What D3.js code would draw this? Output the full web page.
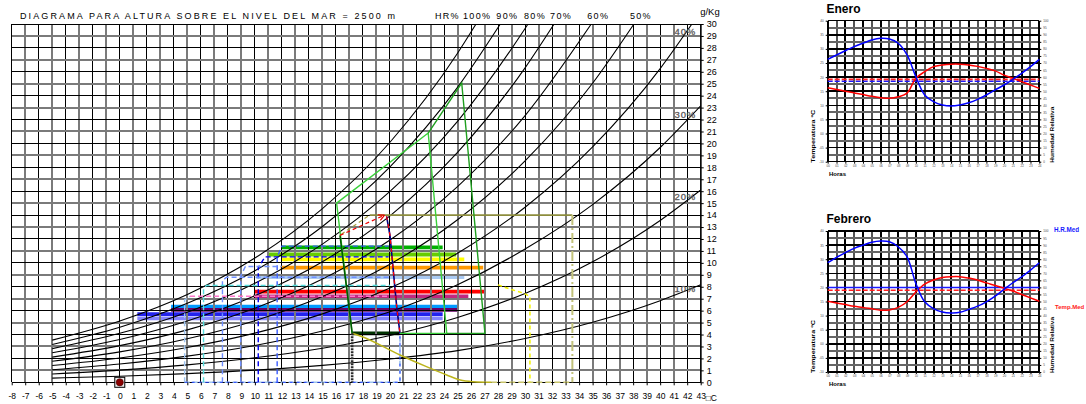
<!DOCTYPE html>
<html>
<head>
<meta charset="utf-8">
<script src="https://cdn.jsdelivr.net/npm/d3@7"></script>
<style>
  body { margin: 0; background: #fff; }
  svg { display: block; font-family: Arial, "Liberation Sans", sans-serif; }
</style>
</head>
<body>
<div id="chart"></div>
<script>
// ---- main psychrometric chart data ----
const tempTicks = d3.range(-8, 44);   // -8 .. 43 degC
const humTicks = d3.range(0, 31);     // 0 .. 30 g/Kg

// relative humidity curves [T, g/Kg]
const rh100 = [[-5,3.53],[0,5.13],[5,7.35],[10,10.40],[15,14.54],[20,20.10],[25,27.55],[26.37,30]];
const rh90  = [[-5,3.17],[0,4.61],[5,6.61],[10,9.34],[15,13.05],[20,18.03],[25,24.69],[28.17,30]];
const rh80  = [[-5,2.82],[0,4.10],[5,5.87],[10,8.29],[15,11.57],[20,15.98],[25,21.85],[30,29.62],[30.22,30]];
const rh70  = [[-5,2.47],[0,3.58],[5,5.13],[10,7.24],[15,10.10],[20,13.94],[25,19.25],[30,26.33],[32.15,30]];
const rh60  = [[-5,2.11],[0,3.07],[5,4.39],[10,6.20],[15,8.64],[20,11.91],[25,16.39],[30,22.33],[34.9,30]];
const rh50  = [[-5,1.76],[0,2.55],[5,3.65],[10,5.16],[15,7.18],[20,9.89],[25,13.61],[30,18.54],[35,25.04],[38.06,30]];
const rh40  = [[-5,1.41],[0,2.04],[5,2.92],[10,4.12],[15,5.73],[20,7.89],[25,10.81],[30,14.66],[35,19.71],[40,26.27],[42.35,30]];
const rh30  = [[-5,1.05],[0,1.53],[5,2.19],[10,3.08],[15,4.29],[20,5.90],[25,8.16],[30,11.16],[35,14.88],[40,19.66],[43,23.15]];
const rh20  = [[-5,0.70],[0,1.02],[5,1.46],[10,2.05],[15,2.85],[20,3.92],[25,5.43],[30,7.44],[35,10.09],[40,13.55],[43,16.10]];
const rh10  = [[-5,0.35],[0,0.51],[5,0.73],[10,1.02],[15,1.42],[20,1.95],[25,2.65],[30,3.67],[35,5.03],[40,6.83],[43,8.16]];
const rhCurves = [rh100, rh90, rh80, rh70, rh60, rh50, rh40, rh30, rh20, rh10];
const rhTopLabels = ['100%', '90%', '80%', '70%', '60%', '50%'];
const rhSideLabels = ['40%', '30%', '20%', '10%'];

// monthly lines: mean humidity (g/Kg), min and max temperature
const monthW    = [11.3, 10.7, 10.3, 9.6, 8.8, 7.6, 7.2, 6.34, 6.06, 5.7, 5.36, 4.1];
const monthTmin = [12.0, 10.9, 12.0, 11.9, 10.1, 10.0, 9.9, 3.8, 3.8, 1.3, 1.3, 17.2];
const monthTmax = [23.9, 24.9, 25.5, 26.9, 25.5, 27.0, 25.8, 25.1, 25.1, 23.9, 23.9, 20.7];
const monthColors = ['#00b000', '#66cc00', '#ffff00', '#ff9900', '#a9c9f2', '#ff0000',
                     '#c0287f', '#0099ff', '#660066', '#2222ee', '#8585ff', '#003300'];

// dashed boxes [T, g/Kg]
const dashA = [[11.65,0],[11.65,10.5],[12.0,11.4],[19.9,11.4]];
const dashB = [[10.25,0],[10.25,9.6],[10.75,10.5],[19.9,10.5]];
const dashC = [[8.95,0],[8.95,8.9],[9.3,9.7],[12.0,9.7]];
const dashD = [[7.6,0],[7.6,8.5],[7.9,8.8],[20.0,8.8]];
const dashE = [[6.2,0],[6.2,7.8],[6.4,8.1],[20.0,8.1]];
const dashF = [[4.8,0],[4.8,6.9],[5.2,7.2]];
const dashG = [[5.2,7.2],[20.0,7.2]];
const dashBase = [[4.8,0],[20.74,0],[20.74,4.1]];
const dashRight = [[19.75,13.9],[20.0,12.3],[20.5,6.3],[20.74,4.1]];

// other annotations
const greenLight = [[20.74,4.1],[24.2,4.1],[22.83,20.87],[16.05,15.0],[17.2,4.1]];
const greenDark = [[22.83,20.87],[25.31,25.06],[27.03,4.1],[24.2,4.1]];
const greenEdge = [[16.3,12.3],[17.04,5.64],[17.2,4.1]];
const blackPost = [[17.2,4.1],[17.2,0]];
const arrowRed = [[16.3,12.3],[19.6,14.0]];
const arrowOlive = [[16.4,12.4],[18.5,14.0]];
const oliveTop = [[18.5,14.0],[33.5,14.0]];
const oliveDrop = [[33.5,14.0],[33.5,0]];
const yellowDrop = [[28.0,8.16],[28.9,7.8],[29.9,7.46],[30.36,7.18],[30.36,0]];
const oliveCurve = [[17.2,4.1],[17.8,3.88],[20.74,2.29],[22.7,1.31],[24.2,0.61],[25.2,0.19],[26.2,0.05],[27.5,0]];
const oliveFloor = [[27.5,0],[33.5,0]];
const originPoint = [0, 0];

// ---- daily charts data ----
const hours = d3.range(0, 25);
const eneroTemp = [16.2,15.6,15.0,14.4,13.8,13.2,12.7,12.5,13.0,14.3,19.6,21.9,23.7,24.3,24.6,24.6,24.3,23.8,23.1,22.2,20.7,19.6,18.4,17.2,16.0];
const eneroHum  = [72.6,75.7,78.7,81.6,84.0,86.3,87.5,87.0,84.0,75.7,60.3,47.3,42.6,40.2,39.5,40.2,41.8,44.2,47.3,50.9,54.4,58.4,62.7,67.4,72.6];
const febreroTemp = [15.1,14.5,13.9,13.3,12.9,12.4,11.9,12.0,12.9,14.9,18.4,21.2,22.6,23.5,23.8,23.8,23.3,22.6,21.6,20.7,19.7,18.7,17.5,16.3,15.1];
const febreroHum  = [77.5,81.3,84.6,87.7,90.0,92.0,92.9,92.4,88.8,81.7,62.8,49.8,45.0,42.6,41.9,42.3,44.4,46.7,49.8,53.8,58.6,63.3,67.5,72.3,77.5];
const eneroMeans = [19.2, 57];
const febreroMeans = [19.0, 60];

// ---------------------------------------------------------------
const svg = d3.select('#chart').append('svg')
  .attr('width', 1086)
  .attr('height', 404);

const x = d3.scaleLinear().domain([-8, 43]).range([11.7, 700.7]);
const y = d3.scaleLinear().domain([0, 30]).range([382.3, 24]);
const poly = d3.line().x(d => x(d[0])).y(d => y(d[1]));
const smooth = d3.line().x(d => x(d[0])).y(d => y(d[1])).curve(d3.curveMonotoneX);

svg.append('defs').append('clipPath').attr('id', 'plotClip')
  .append('rect').attr('x', x(-8)).attr('y', y(30)).attr('width', x(43) - x(-8)).attr('height', y(0) - y(30));

function path(g, pts, color, width, dash, gen) {
  return g.append('path')
    .attr('d', (gen || poly)(pts))
    .attr('fill', 'none')
    .attr('stroke', color)
    .attr('stroke-width', width)
    .attr('stroke-dasharray', dash || null);
}

// month solid lines (under grid)
const months = svg.append('g');
monthW.forEach((w, i) => {
  months.append('line')
    .attr('x1', x(monthTmin[i])).attr('x2', x(monthTmax[i]))
    .attr('y1', y(w)).attr('y2', y(w))
    .attr('stroke', monthColors[i])
    .attr('stroke-width', 3.8);
});

// grid
const grid = svg.append('g').attr('shape-rendering', 'crispEdges');
tempTicks.forEach(t => {
  const even = Math.abs(t) % 2 === 0;
  grid.append('line')
    .attr('x1', x(t)).attr('x2', x(t))
    .attr('y1', y(30)).attr('y2', y(0))
    .attr('stroke', even ? '#000' : '#7a7a7a')
    .attr('stroke-width', even ? 1 : 2);
});
humTicks.forEach(h => {
  const even = h % 2 === 0;
  grid.append('line')
    .attr('x1', x(-8)).attr('x2', x(43))
    .attr('y1', y(h)).attr('y2', y(h))
    .attr('stroke', even ? '#000' : '#7a7a7a')
    .attr('stroke-width', even ? 1 : 2);
});

// relative humidity curves
const curves = svg.append('g').attr('clip-path', 'url(#plotClip)');
rhCurves.forEach(c => path(curves, c, '#000', 1.1, null, smooth));

// dashed boxes
const dashes = svg.append('g');
path(dashes, dashBase, '#9cc3ef', 1.6, '5,3');
path(dashes, dashBase, '#1f3fff', 1, '3,4');
path(dashes, dashA, '#3a5cff', 1.4, '5,3');
path(dashes, dashB, '#0000ee', 1.4, '5,3');
path(dashes, dashC, '#6f8fff', 1.4, '5,3');
path(dashes, dashD, '#6f8fff', 1.4, '5,3');
path(dashes, dashE, '#55dddd', 1.4, '5,3');
path(dashes, dashF, '#9cc3ef', 1.4, '5,3');
path(dashes, dashG, '#ff77cc', 1.4, '5,3');
path(dashes, dashRight, '#000080', 1.6);
path(dashes, dashRight, '#ff0000', 1.2, '4,4');

// other annotations
const notes = svg.append('g');
path(notes, oliveCurve, '#bcb41c', 1.5, null, smooth);
path(notes, oliveFloor, '#c8c46a', 1.6, '6,3');
path(notes, oliveTop, '#8c8c3c', 1.6);
path(notes, oliveDrop, '#c2c27a', 2, '10,3,2,3');
path(notes, yellowDrop, '#f2f200', 1.5, '4,3');
path(notes, greenLight, '#3ad03a', 1.4);
path(notes, greenDark, '#1f9f1f', 1.4);
path(notes, greenEdge, '#005a00', 1.6);
path(notes, blackPost, '#2a2a2a', 2.6, '2,1');
path(notes, arrowOlive, '#a8a040', 1.2, '4,3');
path(notes, arrowRed, '#ee0000', 1.2, '4,3');
const a1 = arrowRed[1], a0 = arrowRed[0];
const ang = Math.atan2(y(a1[1]) - y(a0[1]), x(a1[0]) - x(a0[0]));
notes.append('path')
  .attr('d', 'M0,0 L-6,-3 M0,0 L-6,3')
  .attr('transform', `translate(${x(a1[0])},${y(a1[1])}) rotate(${ang * 180 / Math.PI})`)
  .attr('stroke', '#ee0000').attr('stroke-width', 1.2).attr('fill', 'none');

// plot frame
svg.append('line').attr('x1', x(43)).attr('x2', x(43)).attr('y1', y(30)).attr('y2', y(0))
  .attr('stroke', '#000').attr('stroke-width', 1.2);

// axes
const xAxis = d3.axisBottom(x).tickValues(tempTicks).tickSize(3).tickPadding(8).tickFormat(d => String(d));
const gx = svg.append('g').attr('transform', `translate(0,${y(0)})`).call(xAxis);
gx.select('.domain').remove();
gx.attr('font-family', null).attr('font-size', null);
gx.selectAll('text').attr('font-size', 8.5).attr('fill', '#000');
gx.selectAll('line').attr('stroke', '#000');

const yAxis = d3.axisRight(y).tickValues(humTicks).tickSize(3).tickPadding(3).tickFormat(d => String(d));
const gy = svg.append('g').attr('transform', `translate(${x(43)},0)`).call(yAxis);
gy.select('.domain').remove();
gy.attr('font-family', null).attr('font-size', null);
gy.selectAll('text').attr('font-size', 9).attr('fill', '#000');

svg.append('text').attr('x', x(43) + 5).attr('y', 400.5).attr('font-size', 8.5).text('\u25A1C');
svg.append('text').attr('x', x(43) - 0.5).attr('y', 15).attr('font-size', 9.5).text('g/Kg');

// titles and curve labels
svg.append('text')
  .attr('x', 20).attr('y', 19.3)
  .attr('font-size', 9)
  .attr('textLength', 375).attr('lengthAdjust', 'spacing')
  .text('DIAGRAMA PARA ALTURA SOBRE EL NIVEL DEL MAR = 2500 m');

rhTopLabels.forEach((lab, i) => {
  const end = rhCurves[i][rhCurves[i].length - 1];
  svg.append('text')
    .attr('x', x(end[0]) - (i === 0 ? 13 : 4))
    .attr('y', 19.3)
    .attr('font-size', 9).attr('letter-spacing', 1.3)
    .text(lab);
});
svg.append('text').attr('x', 435).attr('y', 19.3)
  .attr('font-size', 9).attr('letter-spacing', 1.3).text('HR%');

const sideOffsets = [11, 12, 10, 7];
rhSideLabels.forEach((lab, i) => {
  const c = rhCurves[6 + i];
  const end = c[c.length - 1];
  svg.append('text')
    .attr('x', 696).attr('y', y(end[1]) + sideOffsets[i])
    .attr('text-anchor', 'end')
    .attr('font-size', 9.5).attr('letter-spacing', 0.8)
    .attr('fill', '#333').attr('stroke', '#777').attr('stroke-width', 0.3)
    .text(lab);
});

// origin marker
svg.append('rect')
  .attr('x', x(originPoint[0]) - 5).attr('y', y(originPoint[1]) - 5)
  .attr('width', 10).attr('height', 10)
  .attr('fill', '#eee').attr('stroke', '#000').attr('stroke-width', 1);
svg.append('circle')
  .attr('cx', x(originPoint[0])).attr('cy', y(originPoint[1]))
  .attr('r', 3.6).attr('fill', '#8b0000').attr('stroke', '#400').attr('stroke-width', 0.6);

// ---- daily charts ----
function daily(top, name, temp, hum, means, blueSolid) {
  const g = svg.append('g');
  const xs = d3.scaleLinear().domain([0, 24]).range([827.7, 1039.3]);
  const yt = d3.scaleLinear().domain([-10, 40]).range([top + 141, top]);
  const yh = d3.scaleLinear().domain([0, 100]).range([top + 141, top]);

  const gg = g.append('g').attr('shape-rendering', 'crispEdges');
  hours.forEach(h => {
    gg.append('line').attr('x1', xs(h)).attr('x2', xs(h)).attr('y1', yh(100)).attr('y2', yh(0))
      .attr('stroke', h % 2 === 0 ? '#000' : '#555').attr('stroke-width', 2);
  });
  d3.range(0, 105, 5).forEach(v => {
    gg.append('line').attr('x1', xs(0)).attr('x2', xs(24)).attr('y1', yh(v)).attr('y2', yh(v))
      .attr('stroke', v % 10 === 0 ? '#000' : '#666').attr('stroke-width', v % 10 === 0 ? 1.5 : 2);
  });
  [0, 24].forEach(h => gg.append('line').attr('x1', xs(h)).attr('x2', xs(h)).attr('y1', yh(100)).attr('y2', yh(0))
    .attr('stroke', '#000').attr('stroke-width', 2));

  const tiny = sel => {
    sel.select('.domain').remove();
    sel.attr('font-family', null).attr('font-size', null);
    sel.selectAll('text').attr('font-size', 3).attr('fill', '#444');
    sel.selectAll('line').attr('stroke', '#000');
  };
  const pad2 = d => (d < 0 ? '-' : '') + String(Math.abs(d)).padStart(2, '0');
  g.append('g').attr('transform', `translate(${xs(0)},0)`)
    .call(d3.axisLeft(yt).tickValues(d3.range(-10, 45, 5)).tickSize(2).tickPadding(2).tickFormat(pad2)).call(tiny);
  g.append('g').attr('transform', `translate(${xs(24)},0)`)
    .call(d3.axisRight(yh).tickValues(d3.range(0, 105, 5)).tickSize(2).tickPadding(2).tickFormat(d => String(d))).call(tiny);
  g.append('g').attr('transform', `translate(0,${yh(0)})`)
    .call(d3.axisBottom(xs).tickValues(hours).tickSize(2).tickPadding(1).tickFormat(pad2)).call(tiny);

  // means
  g.append('line').attr('x1', xs(0)).attr('x2', xs(24)).attr('y1', yh(means[1])).attr('y2', yh(means[1]))
    .attr('stroke', '#1a1aff').attr('stroke-width', 1.5).attr('stroke-dasharray', blueSolid ? null : '5,2');
  g.append('line').attr('x1', xs(0)).attr('x2', xs(24)).attr('y1', yt(means[0])).attr('y2', yt(means[0]))
    .attr('stroke', '#ff2020').attr('stroke-width', 1.6).attr('stroke-dasharray', '5,2');

  const lt = d3.line().x((d, i) => xs(hours[i])).y(d => yt(d)).curve(d3.curveCatmullRom.alpha(0.5));
  const lh = d3.line().x((d, i) => xs(hours[i])).y(d => yh(d)).curve(d3.curveCatmullRom.alpha(0.5));
  g.append('path').attr('d', lt(temp)).attr('fill', 'none').attr('stroke', '#ff0000').attr('stroke-width', 1.5);
  g.append('path').attr('d', lh(hum)).attr('fill', 'none').attr('stroke', '#0000ff').attr('stroke-width', 1.5);

  g.append('text').attr('x', 826.5).attr('y', top - 8).attr('font-size', 12).attr('font-weight', 'bold').text(name);
  g.append('text').attr('x', 829).attr('y', top + 155).attr('font-size', 6).attr('font-weight', 'bold').text('Horas');
  g.append('text')
    .attr('transform', `translate(815,${top + 142}) rotate(-90)`)
    .attr('font-size', 6).attr('font-weight', 'bold')
    .attr('textLength', 53).attr('lengthAdjust', 'spacingAndGlyphs')
    .text('Temperatura \u00BAC');
  g.append('text')
    .attr('transform', `translate(1054,${top + 142}) rotate(-90)`)
    .attr('font-size', 6).attr('font-weight', 'bold')
    .attr('textLength', 56).attr('lengthAdjust', 'spacingAndGlyphs')
    .text('Humedad Relativa');
  return g;
}

daily(20.7, 'Enero', eneroTemp, eneroHum, eneroMeans, false);
daily(231, 'Febrero', febreroTemp, febreroHum, febreroMeans, true);

svg.append('text').attr('x', 1054).attr('y', 231.5).attr('font-size', 6.3).attr('font-weight', 'bold')
  .attr('fill', '#1a1aff').text('H.R.Med');
svg.append('text').attr('x', 1055).attr('y', 309).attr('font-size', 6).attr('font-weight', 'bold')
  .attr('fill', '#ff2020').text('Temp.Med');
</script>
</body>
</html>
